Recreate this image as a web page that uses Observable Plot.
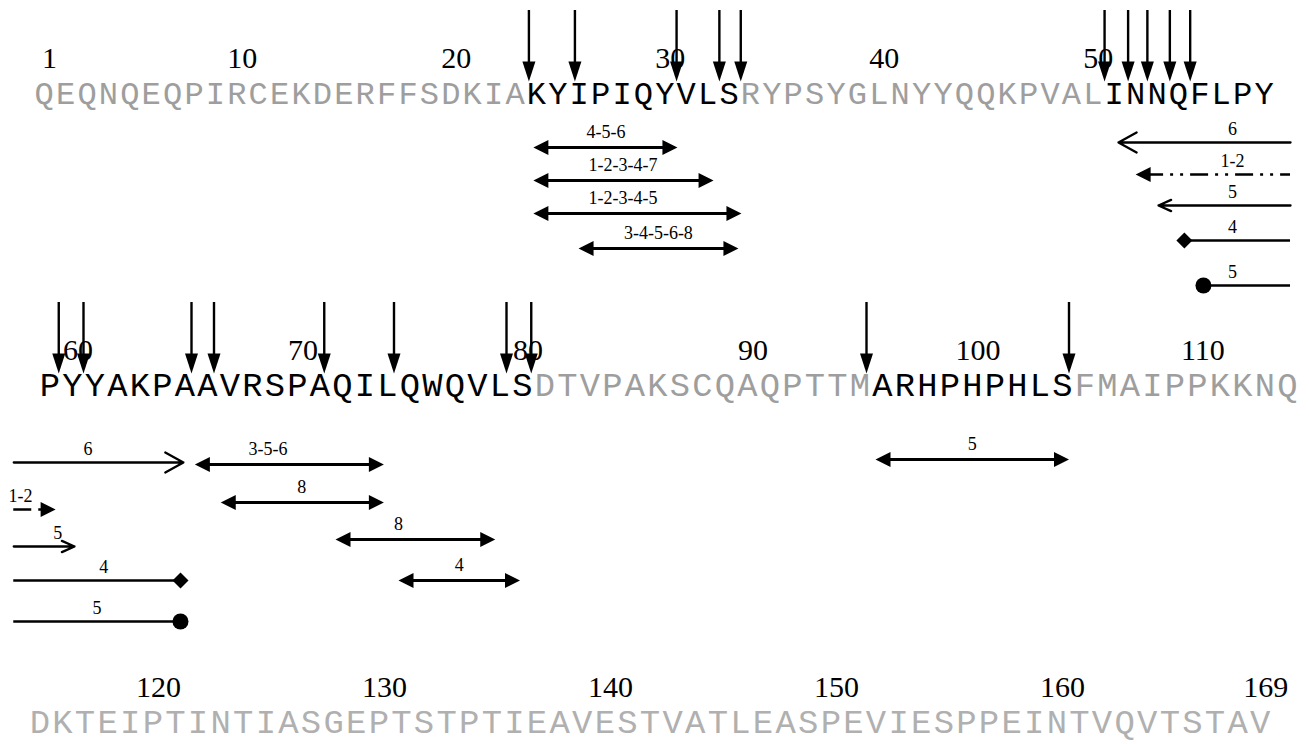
<!DOCTYPE html>
<html><head><meta charset="utf-8">
<script src="https://cdn.jsdelivr.net/npm/d3@7"></script>
<script src="https://cdn.jsdelivr.net/npm/@observablehq/plot@0.6"></script>
<style>
body{margin:0;background:#fff;}
#chart{width:1309px;height:744px;overflow:hidden;}
#chart svg{display:block;}
</style></head><body><div id="chart"></div>
<script>
// ---------- data ----------
const sequence = "QEQNQEQPIRCEKDERFFSDKIAKYIPIQYVLSRYPSYGLNYYQQKPVALINNQFLPYPYYAKPAAVRSPAQILQWQVLSDTVPAKSCQAQPTTMARHPHPHLSFMAIPPKKNQDKTEIPTINTIASGEPTSTPTIEAVESTVATLEASPEVIESPPEINTVQVTSTAV";
const rowFirst = [1, 59, 115];
const rowLast = [58, 114, 169];
const highlight = [[24, 33], [51, 80], [96, 104]];
const positionLabels = [1, 10, 20, 30, 40, 50, 60, 70, 80, 90, 100, 110, 120, 130, 140, 150, 160, 169];
const cleavageSites = [23.65, 25.8, 30.55, 32.55, 33.55, 50.55, 51.65, 52.55, 53.6, 54.55,
  59.4, 60.5, 65.3, 66.3, 71.2, 74.3, 79.3, 80.4, 95.3, 104.3];

// peptides drawn as double-headed arrows
const pepLabel = ["4-5-6", "1-2-3-4-7", "1-2-3-4-5", "3-4-5-6-8", "3-5-6", "8", "8", "4", "5"];
const pepStart = [23.86, 23.86, 23.86, 25.97, 65.45, 66.6, 71.7, 74.5, 95.7];
const pepEnd = [30.59, 32.28, 33.58, 33.44, 73.85, 73.85, 78.8, 79.9, 104.3];
const pepTrack = [1.62, 2.61, 3.6, 4.65, 2.37, 3.51, 4.62, 5.85, 2.22];
const pepLabelAt = [27.25, 28.05, 28.05, 29.7, 68.7, 70.2, 74.5, 77.2, 100.0];

// features that run across the row break
const featLabel = ["6", "1-2", "5", "4", "5"];
const featStyle = ["open-large", "filled", "open", "diamond", "circle"];
const featStart = [51.2, 52.0, 53.07, 54.28, 55.17];
const featEnd = [64.94, 59.26, 60.1, 64.81, 64.81];
const featTrackRow1 = [1.47, 2.43, 3.36, 4.41, 5.76];
const featTrackRow2 = [2.31, 3.72, 4.83, 5.85, 7.08];
const featLabelAtRow1 = [56.53, 56.53, 56.53, 56.53, 56.53];
const featLabelAtRow2 = [60.7, 57.7, 59.35, 61.4, 61.1];
const rowBreakOut = 59.24;  // where row-1 lines leave the row
const rowBreakIn = 57.4;    // where row-2 lines come back in

// ---------- layout ----------
const unit = 33.33;                 // px per track
const rowLayout = [
  {x0: 33, w: 21.4, height: 300, seqY: 93},
  {x0: 38, w: 22.5, height: 345, seqY: 85},
  {x0: 28, w: 22.6, height: 99, seqY: 77}
];
const arrowTop = -2.49, arrowTip = -0.36, numberTrack = -1.04, numberShift = 0.25;

const sym = (pts) => ({draw(ctx) { ctx.moveTo(pts[0][0], pts[0][1]); for (const p of pts.slice(1)) ctx.lineTo(p[0], p[1]); ctx.closePath(); }});
const triDown = sym([[0, 0], [-6.5, -20], [6.5, -20]]);
const triLeft = sym([[0, 0], [15, -7.5], [15, 7.5]]);
const triRight = sym([[0, 0], [-15, -7.5], [-15, 7.5]]);
const diamond = sym([[-8, 0], [0, -8], [8, 0], [0, 8]]);

function rowPlot(r) {
  const first = rowFirst[r], last = rowLast[r], L = rowLayout[r];
  const inRow = (p) => p >= first - 0.5 && p <= last + 0.5;
  const letters = d3.range(first, last + 1).map((i) => ({
    pos: i, ch: sequence[i - 1], hl: highlight.some(([a, b]) => i >= a && i <= b)
  }));
  const cuts = cleavageSites.filter(inRow);
  const nums = positionLabels.filter((p) => p >= first && p <= last);
  const peps = pepLabel.map((label, i) => ({label, start: pepStart[i], end: pepEnd[i], track: pepTrack[i], at: pepLabelAt[i]}))
    .filter((d) => inRow(d.start));
  let segs = [];
  if (r === 0) segs = featLabel.map((label, i) => ({label, style: featStyle[i], m: featStart[i], lo: featStart[i], hi: rowBreakOut, tail: rowBreakOut, track: featTrackRow1[i], at: featLabelAtRow1[i]}));
  if (r === 1) segs = featLabel.map((label, i) => ({label, style: featStyle[i], m: featEnd[i], lo: rowBreakIn, hi: featEnd[i], tail: rowBreakIn, track: featTrackRow2[i], at: featLabelAtRow2[i]}));
  const S = (s) => segs.filter((d) => d.style === s);
  const textColor = r === 2 ? "#b0b0b0" : "#9e9e9e";
  const seqFont = (L.w / 0.6) * 0.9;

  const marks = [
    // sequence letters
    Plot.text(letters.filter((d) => !d.hl), {x: "pos", y: () => 0, text: "ch", fill: textColor, fontFamily: "Liberation Mono", fontSize: seqFont, lineAnchor: "middle"}),
    Plot.text(letters.filter((d) => d.hl), {x: "pos", y: () => 0, text: "ch", fill: "#000", fontFamily: "Liberation Mono", fontSize: seqFont, lineAnchor: "middle"}),
    // position numbers
    Plot.text(nums, {x: (d) => d + numberShift, y: () => numberTrack, text: (d) => String(d), fill: "#000", fontFamily: "Liberation Serif", fontSize: 30, lineAnchor: "middle"}),
    // cleavage arrows
    Plot.ruleX(cuts, {x: (d) => d, y1: () => arrowTop, y2: () => arrowTip, stroke: "#000", strokeWidth: 2.4, insetBottom: 8}),
    Plot.dot(cuts, {x: (d) => d, y: () => arrowTip, symbol: triDown, fill: "#000", stroke: "none", r: 6}),
    // peptides
    Plot.ruleY(peps, {y: "track", x1: "start", x2: "end", stroke: "#000", strokeWidth: 3, insetLeft: 8, insetRight: 8}),
    Plot.dot(peps, {x: "start", y: "track", symbol: triLeft, fill: "#000", stroke: "none", r: 6}),
    Plot.dot(peps, {x: "end", y: "track", symbol: triRight, fill: "#000", stroke: "none", r: 6}),
    Plot.text(peps, {x: "at", y: "track", text: "label", dy: -15, fill: "#000", fontFamily: "Liberation Serif", fontSize: 18, lineAnchor: "middle"}),
  ];
  if (segs.length) {
    marks.push(
      Plot.arrow(S("open-large"), {x1: "tail", x2: "m", y1: "track", y2: "track", stroke: "#000", strokeWidth: 2.3, headLength: 13.5, headAngle: 58}),
      Plot.arrow(S("open"), {x1: "tail", x2: "m", y1: "track", y2: "track", stroke: "#000", strokeWidth: 2.3, headLength: 9, headAngle: 48}),
      Plot.ruleY(S("filled"), {y: "track", x1: "lo", x2: "hi", stroke: "#000", strokeWidth: 2.6, strokeDasharray: "18,7,3,7,3,7",
        insetLeft: r === 0 ? 10 : 0, insetRight: r === 1 ? 10 : 0}),
      Plot.dot(S("filled"), {x: "m", y: "track", symbol: r === 0 ? triLeft : triRight, fill: "#000", stroke: "none", r: 6}),
      Plot.ruleY(S("diamond").concat(S("circle")), {y: "track", x1: "lo", x2: "hi", stroke: "#000", strokeWidth: 2.3}),
      Plot.dot(S("diamond"), {x: "m", y: "track", symbol: diamond, fill: "#000", stroke: "none", r: 6}),
      Plot.dot(S("circle"), {x: "m", y: "track", r: 8, fill: "#000", stroke: "none"}),
      Plot.text(segs, {x: "at", y: "track", text: "label", dy: -13, fill: "#000", fontFamily: "Liberation Serif", fontSize: 18, lineAnchor: "middle"})
    );
  }
  return Plot.plot({
    width: 1309, height: L.height, margin: 0,
    style: {background: "#fff", overflow: "visible"},
    x: {domain: [first - 0.5, last + 0.5], range: [L.x0, L.x0 + (last - first + 1) * L.w], axis: null},
    y: {domain: [-L.seqY / unit, (L.height - L.seqY) / unit], range: [0, L.height], axis: null},
    marks
  });
}

const chart = document.getElementById("chart");
[0, 1, 2].forEach((r) => chart.appendChild(rowPlot(r)));
</script></body></html>
